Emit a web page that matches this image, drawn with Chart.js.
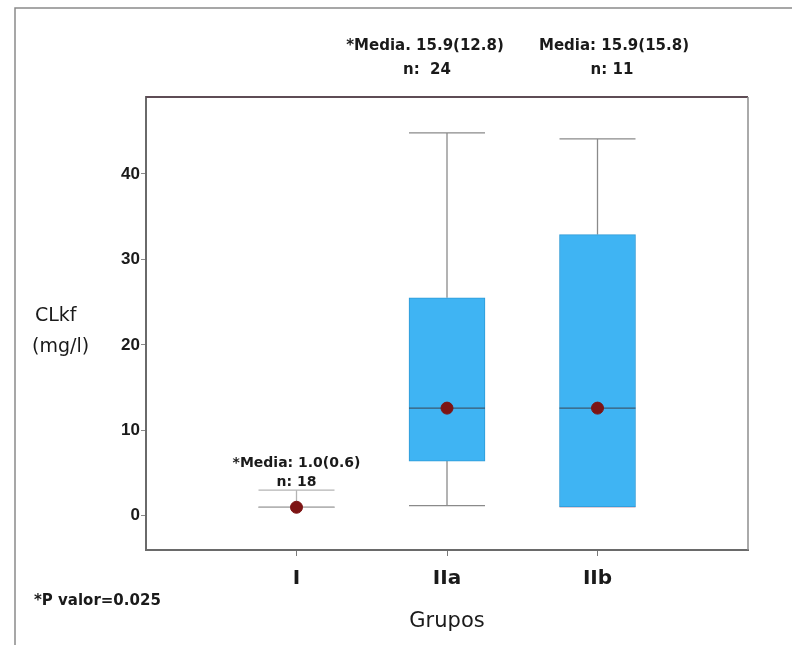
<!DOCTYPE html>
<html>
<head>
<meta charset="utf-8">
<script src="https://cdn.jsdelivr.net/npm/chart.js@4"></script>
<style>
  html, body { margin: 0; padding: 0; background: #ffffff; }
  canvas { display: block; }
</style>
</head>
<body>
<canvas id="c" width="792" height="645"></canvas>
<script>
// ---- data ----
const groups   = ['I', 'IIa', 'IIb'];
const groupPos = [1, 2, 3];
const whiskerLow  = [1.0, 1.2, 1.05];
const q1          = [1.0, 6.4, 1.05];
const medians     = [1.0, 12.6, 12.6];
const q3          = [1.0, 25.5, 32.9];
const whiskerHigh = [3.0, 44.8, 44.1];
const yTicks = [0, 10, 20, 30, 40];
const meanLabels = ['*Media: 1.0(0.6)', '*Media. 15.9(12.8)', 'Media: 15.9(15.8)'];
const nLabels    = ['n: 18', 'n:  24', 'n: 11'];
const pValueText = '*P valor=0.025';
const yTitle = ['CLkf', '(mg/l)'];
const xTitle = 'Grupos';

const LIB = "'Liberation Sans', Arial, sans-serif";
const DJV = "'DejaVu Sans', sans-serif";

const boxData = groupPos.map((x, i) => ({ x: x, y: [q1[i], q3[i]] }));
const dotData = groupPos.map((x, i) => ({ x: x, y: medians[i] }));

const boxPlugin = {
  id: 'boxParts',
  beforeDatasetsDraw(chart) {
    const ctx = chart.ctx, xs = chart.scales.x, ys = chart.scales.y;
    const half = 38;
    ctx.save();
    groupPos.forEach((g, i) => {
      const cx = xs.getPixelForValue(g);
      const col = i === 0 ? '#b4b4b4' : '#8a8a8a';
      ctx.strokeStyle = col;
      ctx.lineWidth = 1.3;
      ctx.beginPath();
      ctx.moveTo(cx, ys.getPixelForValue(q3[i]));
      ctx.lineTo(cx, ys.getPixelForValue(whiskerHigh[i]));
      ctx.stroke();
      ctx.beginPath();
      ctx.moveTo(cx, ys.getPixelForValue(q1[i]));
      ctx.lineTo(cx, ys.getPixelForValue(whiskerLow[i]));
      ctx.stroke();
      [whiskerHigh[i], whiskerLow[i]].forEach((v, k) => {
        const yy = ys.getPixelForValue(v);
        ctx.strokeStyle = (i === 2 && k === 1) ? '#e2a2aa' : col;
        ctx.beginPath();
        ctx.moveTo(cx - half, yy);
        ctx.lineTo(cx + half, yy);
        ctx.stroke();
      });
    });
    ctx.restore();
  },
  afterDatasetDraw(chart, args) {
    if (args.index !== 0) return;
    const ctx = chart.ctx, xs = chart.scales.x, ys = chart.scales.y;
    const half = 38;
    ctx.save();
    groupPos.forEach((g, i) => {
      const cx = xs.getPixelForValue(g);
      const yy = ys.getPixelForValue(medians[i]);
      ctx.strokeStyle = i === 0 ? '#b4b4b4' : '#3b5a72';
      ctx.lineWidth = 1.3;
      ctx.beginPath();
      ctx.moveTo(cx - half, yy);
      ctx.lineTo(cx + half, yy);
      ctx.stroke();
    });
    ctx.restore();
  }
};

const framePlugin = {
  id: 'frameText',
  afterDraw(chart) {
    const ctx = chart.ctx, a = chart.chartArea, xs = chart.scales.x;
    ctx.save();
    // outer page frame
    ctx.strokeStyle = '#8a8a8a';
    ctx.lineWidth = 1.5;
    ctx.beginPath();
    ctx.moveTo(15, 645);
    ctx.lineTo(15, 8);
    ctx.lineTo(792, 8);
    ctx.stroke();
    // plot top border (dark) and right border
    ctx.strokeStyle = '#5e4c55';
    ctx.lineWidth = 2.2;
    ctx.beginPath();
    ctx.moveTo(a.left, a.top);
    ctx.lineTo(a.right, a.top);
    ctx.stroke();
    ctx.strokeStyle = '#8e8e8e';
    ctx.lineWidth = 1.5;
    ctx.beginPath();
    ctx.moveTo(a.right, a.top);
    ctx.lineTo(a.right, a.bottom);
    ctx.stroke();

    // annotations
    ctx.fillStyle = '#1a1a1a';
    ctx.textAlign = 'center';
    ctx.textBaseline = 'middle';
    ctx.font = 'bold 14px ' + DJV;
    const x0 = xs.getPixelForValue(groupPos[0]);
    ctx.fillText(meanLabels[0], x0, 463);
    ctx.fillText(nLabels[0], x0, 482);
    ctx.font = 'bold 15px ' + DJV;
    ctx.fillText(meanLabels[1], 425, 46);
    ctx.fillText(nLabels[1], 427, 70);
    ctx.fillText(meanLabels[2], 614, 46);
    ctx.fillText(nLabels[2], 612, 70);

    // p value
    ctx.textAlign = 'left';
    ctx.font = 'bold 15px ' + DJV;
    ctx.fillText(pValueText, 34, 601);

    // y title
    ctx.font = '19px ' + DJV;
    ctx.fillText(yTitle[0], 35, 316);
    ctx.fillText(yTitle[1], 32, 347);

    // x title
    ctx.textAlign = 'center';
    ctx.font = '21px ' + DJV;
    ctx.fillText(xTitle, xs.getPixelForValue(2), 622);
    ctx.restore();
  }
};

new Chart(document.getElementById('c'), {
  data: {
    datasets: [
      {
        type: 'bar',
        data: boxData,
        backgroundColor: '#3fb4f3',
        borderColor: '#2e9ad6',
        borderWidth: 1,
        borderSkipped: false,
        barThickness: 76,
        order: 2
      },
      {
        type: 'scatter',
        data: dotData,
        backgroundColor: '#7d1414',
        borderColor: '#7d1414',
        pointRadius: 6,
        order: 1
      }
    ]
  },
  options: {
    responsive: false,
    animation: false,
    events: [],
    layout: { padding: { top: 97, right: 44, left: 0, bottom: 0 } },
    plugins: { legend: { display: false }, tooltip: { enabled: false } },
    scales: {
      x: {
        type: 'linear',
        min: 0,
        max: 4,
        offset: false,
        afterBuildTicks(s) { s.ticks = groupPos.map(v => ({ value: v })); },
        afterFit(s) { s.height = 95; },
        ticks: {
          callback: (v) => groups[groupPos.indexOf(v)] || '',
          font: { family: DJV, size: 20, weight: 'bold' },
          color: '#1a1a1a',
          padding: 11,
          maxRotation: 0,
          autoSkip: false
        },
        grid: { display: true, offset: false, drawOnChartArea: false, drawTicks: true, tickLength: 6, color: '#7a7a7a' },
        border: { display: true, color: '#6a6a6a', width: 2 }
      },
      y: {
        type: 'linear',
        min: -4,
        max: 49,
        afterBuildTicks(s) { s.ticks = yTicks.map(v => ({ value: v })); },
        afterFit(s) { s.width = 146; },
        ticks: {
          font: { family: LIB, size: 17, weight: 'bold' },
          color: '#1a1a1a',
          padding: 1
        },
        grid: { display: true, drawOnChartArea: false, drawTicks: true, tickLength: 5, color: '#8a8a8a' },
        border: { display: true, color: '#6a6a6a', width: 2 }
      }
    }
  },
  plugins: [boxPlugin, framePlugin]
});
</script>
</body>
</html>
